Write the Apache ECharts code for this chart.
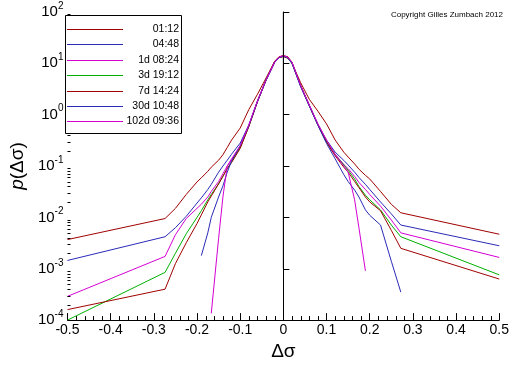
<!DOCTYPE html>
<html><head><meta charset="utf-8">
<script src="https://cdn.jsdelivr.net/npm/echarts@6/dist/echarts.min.js"></script>
<style>html,body{margin:0;padding:0;background:#fff}#c{width:512px;height:366px}</style>
</head><body><div id="c"></div><script>
// Δσ grid
const xs = [-0.5, -0.274, -0.25, -0.225, -0.2, -0.19, -0.175, -0.167, -0.15, -0.14, -0.13, -0.12, -0.1, -0.08, -0.06, -0.04, -0.02, -0.01, 0, 0.01, 0.02, 0.04, 0.06, 0.08, 0.1, 0.12, 0.14, 0.15, 0.165, 0.175, 0.19, 0.2, 0.225, 0.25, 0.272, 0.5];
const names = ['01:12', '04:48', '1d 08:24', '3d 19:12', '7d 14:24', '30d 10:48', '102d 09:36'];
const p0112 = [3.7e-3, 9.5e-3, 1.5e-2, 2.8e-2, 4.9e-2, 5.9e-2, 7.9e-2, 9.5e-2, 0.13, 0.166, 0.23, 0.32, 0.55, 1.26, 2.5, 5.2, 11, 12.9, 13.5, 12.6, 10, 4.2, 2.0, 1.17, 0.66, 0.32, 0.186, 0.15, 0.11, 8.7e-2, 6.6e-2, 5.6e-2, 3.2e-2, 1.8e-2, 1.23e-2, 4.7e-3];
const p0448 = [1.45e-3, 4.2e-3, 6.3e-3, 1.05e-2, 1.9e-2, 2.4e-2, 3.5e-2, 4.4e-2, 7.6e-2, 0.1, 0.13, 0.17, 0.28, 0.63, 1.86, 4.8, 10.7, 12.9, 13.8, 12.9, 10.2, 3.7, 1.55, 0.65, 0.32, 0.186, 0.129, 0.105, 7.6e-2, 6.0e-2, 4.4e-2, 3.5e-2, 2.0e-2, 1.17e-2, 7.1e-3, 2.8e-3];
const p1d0824 = [2.9e-4, 1.74e-3, 4.6e-3, 9.5e-3, 1.5e-2, 1.8e-2, 2.5e-2, 3.2e-2, 5.0e-2, 7.1e-2, 0.1, 0.13, 0.24, 0.6, 1.78, 4.7, 10.5, 13.2, 14.1, 13.2, 10.2, 3.6, 1.5, 0.65, 0.30, 0.17, 0.107, 8.9e-2, 6.3e-2, 4.8e-2, 3.5e-2, 2.8e-2, 1.66e-2, 8.9e-3, 5.0e-3, 1.66e-3];
const p3d1912 = [1.0e-4, 8.5e-4, 2.0e-3, 4.8e-3, 1.0e-2, 1.35e-2, 2.2e-2, 2.8e-2, 4.5e-2, 6.3e-2, 8.9e-2, 0.12, 0.23, 0.59, 1.8, 4.8, 10.7, 13.2, 13.8, 12.9, 10, 3.6, 1.5, 0.63, 0.30, 0.166, 0.105, 8.3e-2, 5.6e-2, 4.0e-2, 2.7e-2, 2.2e-2, 1.4e-2, 7.1e-3, 4.2e-3, 7.6e-4];
const p7d1424 = [1.6e-4, 4.0e-4, 1.26e-3, 3.2e-3, 7.6e-3, 1.12e-2, 2.0e-2, 2.6e-2, 4.5e-2, 6.3e-2, 8.9e-2, 0.117, 0.22, 0.59, 1.8, 4.8, 11, 13.5, 14.1, 13.5, 10.5, 3.7, 1.5, 0.63, 0.29, 0.158, 9.5e-2, 7.6e-2, 5.0e-2, 3.8e-2, 2.5e-2, 2.0e-2, 1.35e-2, 5.6e-3, 2.5e-3, 6.3e-4];
const p30d1048 = [null, null, null, null, null, 1.8e-3, 5.0e-3, 1.0e-2, 2.5e-2, 4.1e-2, 7.6e-2, 0.126, 0.25, 0.62, 1.8, 4.7, 10.5, 12.9, 13.8, 12.9, 10, 3.5, 1.48, 0.62, 0.275, 0.138, 6.8e-2, 5.0e-2, 3.4e-2, 2.5e-2, 1.4e-2, 1.1e-2, 7.1e-3, 1.4e-3, 3.5e-4, null];
const p102d0936 = [null, null, null, null, null, null, null, 1.35e-4, 3.9e-3, 2.5e-2, 0.1, 0.138, 0.25, 0.63, 1.86, 4.8, 10.7, 13.2, 14.1, 13.2, 10.5, 3.7, 1.55, 0.66, 0.32, 0.166, 0.1, 7.6e-2, 2.2e-2, 6.3e-3, 9.1e-4, null, null, null, null, null];
const allP = [p0112, p0448, p1d0824, p3d1912, p7d1424, p30d1048, p102d0936];
const colors = ['#a00000', '#2a2ab8', '#d400d4', '#00b000', '#a00000', '#2a2ab8', '#d400d4'];
const zeroLine = [[0, 100], [0, 1e-3]];
const xTicks = [-0.5, -0.4, -0.3, -0.2, -0.1, 0, 0.1, 0.2, 0.3, 0.4, 0.5];
const xMinorTicks = [];
for (let k = -25; k <= 25; k++) if (k % 5 !== 0) xMinorTicks.push(k / 50);
const yMinorTicks = [];
for (let e = -4; e < 2; e++) for (let k = 2; k <= 9; k++) yMinorTicks.push(k * Math.pow(10, e));

const FONT = 'Liberation Sans';
const series = allP.map((arr, i) => ({
  name: names[i], type: 'line', symbol: 'none', showSymbol: false,
  data: xs.map((x, j) => [x, arr[j]]).filter(p => p[1] != null),
  lineStyle: { color: colors[i], width: 1 }, itemStyle: { color: colors[i] },
  emphasis: { disabled: true }, animation: false, clip: true, z: 3
}));
series.push({
  name: 'zero', type: 'line', symbol: 'none', data: zeroLine,
  lineStyle: { color: '#000', width: 1 }, z: 4, animation: false, emphasis: { disabled: true }
});
series.push({
  name: 'yminor', type: 'custom', animation: false, silent: true, z: 5, clip: false,
  data: yMinorTicks.map(v => [-0.5, v]),
  renderItem: (params, api) => {
    const p = api.coord([api.value(0), api.value(1)]);
    const y = Math.round(p[1]) + 0.5;
    return { type: 'line', shape: { x1: p[0], y1: y, x2: p[0] + 3, y2: y }, style: { stroke: '#000', lineWidth: 1 } };
  }
});
series.push({
  name: 'xminor', type: 'custom', animation: false, silent: true, z: 5, clip: false,
  data: xMinorTicks.map(v => [v, 1e-4]),
  renderItem: (params, api) => {
    const p = api.coord([api.value(0), api.value(1)]);
    const x = Math.round(p[0]) + 0.5;
    return { type: 'line', shape: { x1: x, y1: p[1], x2: x, y2: p[1] - 4 }, style: { stroke: '#000', lineWidth: 1 } };
  }
});

// legend box drawn as graphic elements
const legendEls = [{
  type: 'rect', z: 100, shape: { x: 65.5, y: 15.5, width: 116, height: 118 },
  style: { fill: '#fff', stroke: '#000', lineWidth: 1 }
}];
names.forEach((n, i) => {
  const y = 29.5 + Math.round(i * 15.4);
  legendEls.push({ type: 'line', z: 101, shape: { x1: 67, y1: y, x2: 123, y2: y }, style: { stroke: colors[i], lineWidth: 1 } });
  legendEls.push({ type: 'text', z: 101, x: 179, y: y, style: { text: n, font: '10.5px "Liberation Sans"', fill: '#000', align: 'right', verticalAlign: 'middle' } });
});
legendEls.push({
  type: 'text', right: 9, top: 11,
  style: { text: 'Copyright Gilles Zumbach 2012', font: '8px "Liberation Sans"', fill: '#000' }
});

const chart = echarts.init(document.getElementById('c'), null, { renderer: 'canvas' });
chart.setOption({
  backgroundColor: '#fff',
  animation: false,
  textStyle: { fontFamily: FONT, color: '#000' },
  grid: { left: 51, right: 10, top: 12, bottom: 39, containLabel: false },
  xAxis: {
    type: 'value', min: -0.5, max: 0.5, interval: 0.1,
    name: 'Δσ', nameLocation: 'middle', nameGap: 18,
    nameTextStyle: { fontFamily: FONT, fontSize: 19, color: '#000' },
    axisLine: { onZero: false, lineStyle: { color: '#000', width: 1 } },
    axisTick: { inside: true, length: 7, lineStyle: { color: '#000' } },
    splitLine: { show: false },
    axisLabel: { fontFamily: FONT, fontSize: 14, color: '#000', margin: 3,
      formatter: v => { const r = Math.round(v * 10) / 10; return xTicks.includes(r) ? String(r) : ''; } }
  },
  yAxis: {
    type: 'log', logBase: 10, min: 1e-4, max: 100, interval: 1,
    name: '{i|p}(Δσ)', nameLocation: 'middle', nameGap: 26,
    nameTextStyle: { fontFamily: FONT, fontSize: 19, color: '#000', rich: { i: { fontFamily: FONT, fontSize: 19, fontStyle: 'italic' } } },
    axisLine: { show: true, lineStyle: { color: '#000', width: 1 } },
    axisTick: { inside: true, length: 6, lineStyle: { color: '#000' } },
    splitLine: { show: false },
    axisLabel: { color: '#000', margin: 4,
      formatter: v => { const e = Math.round(Math.log10(v)); return '{b|10}{s|' + e + '}'; },
      rich: { b: { fontFamily: FONT, fontSize: 15, color: '#000' }, s: { fontFamily: FONT, fontSize: 10, color: '#000', padding: [0, 0, 12, 0] } } }
  },
  graphic: legendEls,
  series: series
});
</script></body></html>
